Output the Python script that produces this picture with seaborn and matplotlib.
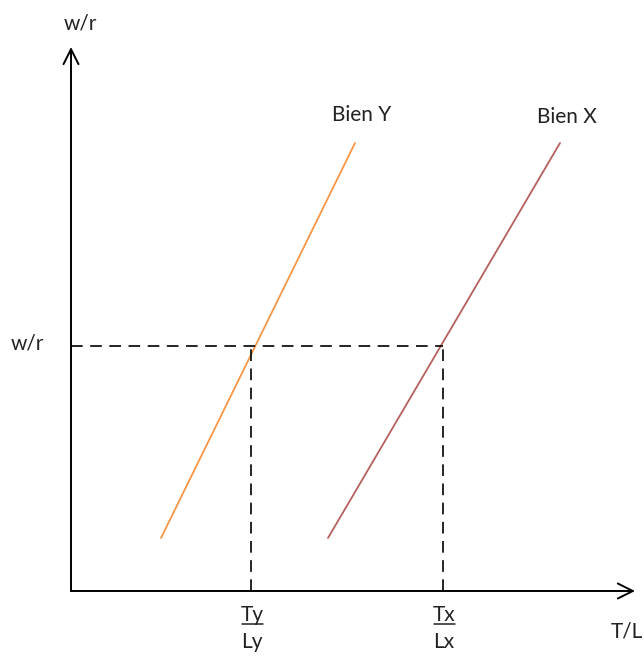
import numpy as np
import pandas as pd
import matplotlib
matplotlib.use("Agg")
import matplotlib.pyplot as plt
import seaborn as sns

# data in axis units (origin = where the two axes meet)
goods = ["Bien Y", "Bien X"]
y_line_x = [90, 284]
x_line_x = [257, 489]
line_y = [53, 448]
wr_level = 245
ty_ly = 180
tx_lx = 372
x_axis_end = 564
y_axis_end = 544
label_pos = {"Bien Y": (291, 476), "Bien X": (496, 474)}
colors = {"Bien Y": "#F79646", "Bien X": "#B5605C"}

df = pd.DataFrame({
    "x": y_line_x + x_line_x,
    "y": line_y + line_y,
    "good": ["Bien Y"] * 2 + ["Bien X"] * 2,
})

sns.set_theme(style="white")
plt.rcParams["font.family"] = ["Lato", "DejaVu Sans"]

fig = plt.figure(figsize=(6.44, 6.56), dpi=100)
ax = fig.add_axes([0, 0, 1, 1])
ax.set_xlim(-71, 573)
ax.set_ylim(-65, 591)
ax.axis("off")

sns.lineplot(data=df, x="x", y="y", hue="good", palette=colors,
             linewidth=1.3, legend=False, ax=ax, estimator=None, sort=False)

# axes with open arrow heads
arrow = dict(arrowstyle="->,head_length=0.9,head_width=0.45", color="black", lw=1.4,
             shrinkA=0, shrinkB=0)
ax.annotate("", xy=(x_axis_end, 0), xytext=(0, 0), arrowprops=arrow)
ax.annotate("", xy=(0, y_axis_end), xytext=(0, 0), arrowprops=arrow)

# dashed guide lines
dash = dict(color="black", lw=1.2, linestyle=(0, (7, 4.5)))
ax.plot([0, tx_lx], [wr_level, wr_level], **dash)
ax.plot([ty_ly, ty_ly], [0, wr_level], **dash)
ax.plot([tx_lx, tx_lx], [0, wr_level], **dash)

fs = 15
tc = "#222222"
ax.text(9, 568, "w/r", ha="center", va="center", fontsize=fs, color=tc)
ax.text(-44, 248, "w/r", ha="center", va="center", fontsize=fs, color=tc)
ax.text(556, -41, "T/L", ha="center", va="center", fontsize=fs, color=tc)
for g in goods:
    ax.text(*label_pos[g], g, ha="center", va="center", fontsize=fs, color=tc)

# fraction labels under the x axis
for xpos, top, bottom in [(ty_ly, "Ty", "Ly"), (tx_lx, "Tx", "Lx")]:
    ax.text(xpos + 1, -24, top, ha="center", va="center", fontsize=fs, color=tc)
    ax.text(xpos + 1, -51, bottom, ha="center", va="center", fontsize=fs, color=tc)
    ax.plot([xpos - 9, xpos + 12], [-33, -33], color=tc, lw=1.1)

fig.savefig("out.png", dpi=100)
